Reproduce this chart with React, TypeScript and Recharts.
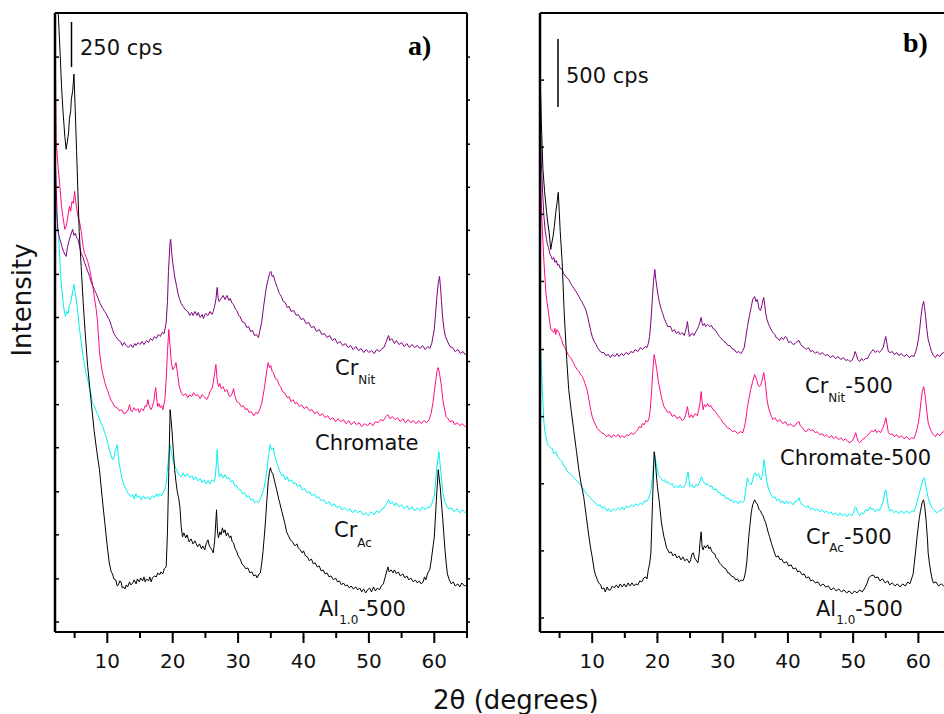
import React from "react";
import { LineChart, Line, XAxis, YAxis } from "recharts";

type Pt = [number, number];

// 2θ (degrees) vs intensity (a.u., traces already offset as in the figure)
const xTicks = [5, 10, 15, 20, 25, 30, 35, 40, 45, 50, 55, 60, 65];
const yTicksA = [10, 53, 97, 140, 184, 227, 270, 314, 357, 401, 444, 487, 531, 574];
const yTicksB = [14, 81, 148, 215, 282, 350, 417, 484, 551];

// panel a) as-synthesised samples
const aBlack: Pt[] = [
  [2.0, 720], [2.5, 618], [2.8, 575], [3.0, 545], [3.2, 522], [3.5, 495], [3.7, 482], [3.9, 490], [4.1, 500],
  [4.2, 512], [4.4, 520], [4.5, 532], [4.7, 540], [4.9, 557], [5.1, 520], [5.3, 480], [5.5, 440], [5.7, 400],
  [6.0, 365], [6.3, 330], [6.6, 300], [7.0, 265], [7.5, 232], [8.0, 200], [8.4, 180], [8.8, 162], [9.2, 135],
  [9.6, 110], [10.0, 85], [10.3, 69], [10.6, 60], [10.8, 58], [11.0, 53], [11.3, 52], [11.5, 46], [11.7, 47],
  [11.9, 51], [12.1, 50], [12.3, 44], [12.5, 45], [12.7, 43], [12.9, 47], [13.1, 45], [13.4, 50], [13.6, 47],
  [13.9, 49], [14.1, 52], [14.4, 48], [14.6, 53], [14.9, 50], [15.1, 54], [15.4, 51], [15.6, 55], [15.8, 50],
  [16.0, 53], [16.3, 51], [16.5, 55], [16.7, 50], [16.9, 54], [17.2, 56], [17.5, 55], [17.7, 59], [18.0, 57],
  [18.2, 60], [18.5, 58], [18.7, 63], [19.0, 65], [19.2, 100], [19.4, 160], [19.6, 222], [19.75, 212],
  [19.9, 200], [20.1, 180], [20.3, 162], [20.5, 150], [20.7, 140], [20.9, 134], [21.1, 125], [21.3, 105],
  [21.5, 95], [21.7, 99], [22.0, 94], [22.2, 97], [22.5, 90], [22.8, 93], [23.1, 88], [23.4, 91], [23.8, 85],
  [24.1, 88], [24.4, 83], [24.6, 86], [24.9, 82], [25.1, 88], [25.4, 92], [25.6, 86], [25.8, 84], [26.0, 82],
  [26.2, 79], [26.4, 90], [26.5, 100], [26.7, 122], [26.85, 100], [27.0, 94], [27.2, 100], [27.4, 97],
  [27.6, 104], [27.8, 99], [28.0, 102], [28.2, 96], [28.4, 99], [28.7, 94], [28.9, 96], [29.1, 90], [29.3, 89],
  [29.5, 84], [29.8, 80], [30.0, 76], [30.3, 73], [30.6, 68], [30.9, 66], [31.2, 63], [31.5, 64], [31.8, 59],
  [32.1, 60], [32.4, 56], [32.7, 57], [32.9, 54], [33.2, 58], [33.4, 59], [33.6, 68], [33.8, 80], [34.0, 95],
  [34.2, 112], [34.4, 132], [34.6, 150], [34.8, 160], [34.95, 164], [35.1, 160], [35.3, 158], [35.6, 150],
  [35.9, 142], [36.2, 133], [36.4, 128], [36.7, 120], [36.9, 115], [37.2, 107], [37.4, 100], [37.7, 96],
  [38.0, 92], [38.3, 90], [38.7, 86], [39.0, 88], [39.2, 84], [39.5, 82], [39.8, 79], [40.0, 81], [40.3, 76],
  [40.6, 75], [40.9, 71], [41.2, 73], [41.5, 68], [41.8, 69], [42.1, 65], [42.4, 66], [42.7, 61], [43.0, 62],
  [43.3, 58], [43.6, 59], [43.9, 55], [44.2, 56], [44.6, 52], [44.9, 54], [45.2, 50], [45.5, 51], [45.8, 47],
  [46.1, 49], [46.4, 46], [46.7, 47], [47.0, 44], [47.3, 46], [47.6, 43], [48.0, 45], [48.3, 42], [48.6, 44],
  [48.9, 40], [49.2, 43], [49.5, 39], [49.8, 42], [50.1, 44], [50.4, 40], [50.7, 45], [51.0, 41], [51.3, 44],
  [51.6, 42], [51.9, 46], [52.2, 48], [52.5, 55], [52.9, 65], [53.1, 60], [53.4, 62], [53.7, 59], [53.9, 62],
  [54.2, 58], [54.5, 60], [54.8, 56], [55.2, 58], [55.5, 54], [55.8, 56], [56.1, 52], [56.4, 54], [56.8, 50],
  [57.1, 52], [57.4, 49], [57.7, 51], [58.0, 48], [58.3, 50], [58.5, 55], [58.7, 52], [59.0, 59], [59.3, 62],
  [59.5, 70], [60.0, 95], [60.3, 130], [60.6, 162], [60.9, 145], [61.3, 112], [61.6, 85], [61.8, 70],
  [62.0, 58], [62.3, 52], [62.6, 48], [62.9, 50], [63.2, 46], [63.6, 48], [63.9, 45], [64.2, 49], [64.6, 46],
  [65.0, 47],
];

const aCyan: Pt[] = [
  [2.0, 432], [2.5, 402], [2.9, 352], [3.3, 325], [3.6, 315], [3.8, 320], [4.0, 318], [4.2, 326], [4.4, 329],
  [4.7, 340], [4.9, 347], [5.1, 338], [5.4, 325], [5.7, 305], [5.95, 292], [6.3, 275], [6.5, 268], [6.7, 259],
  [7.0, 252], [7.2, 245], [7.5, 238], [7.7, 229], [8.0, 226], [8.2, 222], [8.5, 218], [8.8, 212], [9.0, 209],
  [9.3, 205], [9.6, 199], [9.8, 195], [10.1, 188], [10.3, 182], [10.6, 176], [10.8, 172], [11.0, 174],
  [11.2, 180], [11.5, 187], [11.7, 175], [11.8, 169], [12.1, 158], [12.4, 149], [12.6, 146], [12.9, 142],
  [13.1, 139], [13.4, 137], [13.6, 135], [13.9, 137], [14.1, 133], [14.4, 138], [14.6, 134], [14.9, 136],
  [15.2, 132], [15.5, 136], [15.8, 133], [16.2, 135], [16.5, 132], [16.9, 136], [17.2, 134], [17.6, 138],
  [17.8, 135], [18.0, 138], [18.3, 136], [18.5, 139], [18.8, 143], [19.0, 149], [19.3, 170], [19.6, 187],
  [20.0, 172], [20.3, 166], [20.6, 162], [20.9, 157], [21.3, 155], [21.6, 159], [21.9, 155], [22.2, 158],
  [22.6, 154], [22.9, 156], [23.2, 152], [23.5, 155], [23.8, 151], [24.2, 153], [24.5, 149], [24.8, 152],
  [25.1, 148], [25.4, 151], [25.7, 148], [26.0, 152], [26.3, 150], [26.5, 154], [26.7, 170], [26.8, 182],
  [26.95, 165], [27.1, 155], [27.4, 158], [27.7, 154], [28.0, 157], [28.3, 153], [28.6, 154], [28.9, 150],
  [29.2, 151], [29.5, 146], [29.8, 146], [30.1, 142], [30.4, 142], [30.7, 138], [31.0, 139], [31.3, 135],
  [31.6, 136], [31.9, 132], [32.2, 133], [32.5, 129], [32.8, 131], [33.1, 129], [33.4, 133], [33.7, 138],
  [33.9, 142], [34.2, 152], [34.4, 162], [34.7, 178], [34.9, 187], [35.1, 182], [35.4, 184], [35.6, 176],
  [35.9, 169], [36.2, 164], [36.4, 160], [36.7, 156], [36.9, 157], [37.2, 152], [37.5, 155], [37.8, 150],
  [38.1, 152], [38.5, 148], [38.8, 149], [39.1, 145], [39.5, 147], [39.8, 142], [40.2, 143], [40.6, 139],
  [40.9, 140], [41.3, 136], [41.6, 138], [42.0, 134], [42.3, 135], [42.7, 131], [43.1, 132], [43.5, 128],
  [43.9, 130], [44.3, 126], [44.7, 128], [45.1, 124], [45.5, 126], [45.9, 122], [46.3, 124], [46.7, 121],
  [47.1, 123], [47.5, 119], [47.9, 122], [48.3, 119], [48.7, 121], [49.1, 117], [49.5, 119], [49.9, 116],
  [50.3, 120], [50.8, 117], [51.2, 121], [51.6, 119], [52.0, 123], [52.3, 124], [52.7, 128], [53.0, 132],
  [53.3, 128], [53.6, 130], [53.9, 126], [54.2, 129], [54.6, 125], [55.0, 127], [55.4, 123], [55.8, 126],
  [56.2, 122], [56.6, 125], [57.0, 121], [57.4, 124], [57.8, 121], [58.2, 125], [58.6, 122], [59.0, 125],
  [59.3, 124], [59.6, 128], [60.0, 135], [60.2, 150], [60.4, 165], [60.7, 180], [61.0, 160], [61.3, 139],
  [61.6, 130], [61.9, 126], [62.2, 123], [62.6, 124], [63.0, 120], [63.5, 123], [63.9, 119], [64.3, 122],
  [64.7, 119], [65.0, 121],
];

const aPink: Pt[] = [
  [2.0, 597], [2.2, 489], [2.5, 462], [2.7, 449], [3.0, 425], [3.2, 415], [3.5, 402], [3.7, 405], [3.9, 412],
  [4.2, 425], [4.4, 420], [4.6, 430], [4.8, 428], [5.0, 440], [5.2, 428], [5.5, 415], [5.8, 408], [6.0, 400],
  [6.3, 385], [6.5, 378], [6.8, 374], [7.0, 370], [7.3, 362], [7.5, 355], [7.8, 345], [8.0, 335], [8.3, 322],
  [8.5, 310], [8.8, 280], [9.1, 265], [9.3, 258], [9.6, 250], [9.8, 245], [10.1, 240], [10.3, 236], [10.6, 231],
  [10.8, 229], [11.1, 225], [11.5, 224], [11.8, 221], [12.2, 222], [12.5, 218], [12.9, 219], [13.2, 222],
  [13.4, 227], [13.6, 221], [13.8, 220], [14.1, 224], [14.4, 221], [14.7, 223], [14.9, 219], [15.2, 223],
  [15.5, 221], [15.8, 226], [16.0, 225], [16.2, 232], [16.4, 226], [16.7, 222], [16.9, 225], [17.1, 230],
  [17.3, 240], [17.4, 244], [17.6, 230], [17.7, 225], [17.9, 228], [18.1, 224], [18.3, 226], [18.5, 222],
  [18.8, 232], [19.0, 252], [19.2, 280], [19.4, 302], [19.6, 285], [19.8, 269], [20.0, 262], [20.3, 265],
  [20.5, 269], [20.7, 260], [20.8, 255], [21.0, 245], [21.3, 239], [21.6, 236], [22.0, 238], [22.3, 234],
  [22.6, 237], [22.9, 235], [23.2, 239], [23.5, 236], [23.8, 237], [24.2, 233], [24.5, 237], [24.8, 235],
  [25.2, 232], [25.5, 236], [25.7, 240], [26.0, 243], [26.2, 249], [26.4, 258], [26.6, 267], [26.8, 252],
  [27.0, 245], [27.2, 248], [27.4, 243], [27.7, 245], [28.0, 240], [28.3, 242], [28.6, 236], [28.8, 235],
  [29.1, 238], [29.3, 243], [29.5, 236], [29.8, 230], [30.1, 229], [30.5, 225], [30.8, 226], [31.1, 222],
  [31.4, 223], [31.7, 219], [32.0, 220], [32.4, 216], [32.7, 219], [33.0, 218], [33.3, 222], [33.6, 228],
  [33.8, 235], [34.0, 243], [34.2, 252], [34.4, 262], [34.6, 269], [34.8, 264], [35.0, 266], [35.2, 260],
  [35.4, 259], [35.7, 253], [36.0, 252], [36.3, 246], [36.5, 245], [36.8, 240], [37.2, 238], [37.5, 234],
  [37.8, 235], [38.1, 230], [38.4, 232], [38.7, 228], [39.0, 229], [39.4, 225], [39.7, 227], [40.1, 223],
  [40.5, 225], [40.9, 221], [41.3, 222], [41.7, 218], [42.1, 220], [42.5, 216], [42.9, 218], [43.3, 214],
  [43.7, 216], [44.1, 212], [44.5, 214], [44.9, 210], [45.3, 213], [45.7, 210], [46.1, 212], [46.5, 208],
  [46.9, 211], [47.3, 207], [47.7, 210], [48.1, 207], [48.5, 209], [48.9, 205], [49.3, 208], [49.8, 206],
  [50.2, 209], [50.6, 206], [51.0, 210], [51.4, 209], [51.8, 212], [52.2, 211], [52.6, 215], [52.9, 217],
  [53.2, 213], [53.6, 215], [54.0, 212], [54.4, 214], [54.8, 210], [55.2, 213], [55.6, 209], [56.0, 212],
  [56.4, 209], [56.8, 211], [57.2, 208], [57.6, 211], [58.0, 208], [58.4, 211], [58.8, 209], [59.2, 212],
  [59.5, 218], [59.8, 229], [60.0, 240], [60.2, 250], [60.4, 260], [60.6, 264], [60.8, 258], [61.1, 245],
  [61.3, 232], [61.5, 225], [61.8, 215], [62.1, 213], [62.4, 210], [62.8, 211], [63.1, 207], [63.5, 209],
  [63.9, 206], [64.3, 208], [64.7, 205], [65.0, 206],
];

const aPurple: Pt[] = [
  [2.0, 480], [2.4, 402], [2.7, 393], [2.9, 389], [3.1, 384], [3.3, 380], [3.5, 377], [3.7, 375], [3.9, 384],
  [4.2, 392], [4.4, 396], [4.7, 402], [4.9, 396], [5.1, 398], [5.3, 394], [5.5, 392], [5.8, 384], [6.0, 378],
  [6.3, 374], [6.5, 369], [6.8, 364], [7.0, 360], [7.3, 355], [7.5, 350], [7.8, 345], [8.0, 342], [8.3, 338],
  [8.6, 333], [8.9, 328], [9.3, 323], [9.6, 320], [9.8, 318], [10.1, 314], [10.3, 312], [10.6, 306],
  [10.8, 302], [11.0, 298], [11.3, 295], [11.6, 292], [12.0, 290], [12.3, 286], [12.6, 289], [12.9, 286],
  [13.2, 284], [13.6, 287], [13.9, 284], [14.2, 288], [14.4, 286], [14.7, 289], [15.0, 287], [15.3, 290],
  [15.6, 287], [16.0, 291], [16.3, 289], [16.6, 293], [16.9, 291], [17.2, 295], [17.5, 293], [17.8, 297],
  [18.1, 295], [18.4, 299], [18.7, 298], [19.0, 309], [19.2, 330], [19.35, 360], [19.6, 390], [19.7, 392],
  [19.85, 378], [20.0, 369], [20.3, 355], [20.6, 345], [20.8, 338], [21.0, 333], [21.3, 328], [21.6, 325],
  [21.9, 322], [22.3, 320], [22.6, 316], [22.9, 319], [23.1, 316], [23.4, 320], [23.7, 316], [23.9, 319],
  [24.2, 314], [24.5, 317], [24.7, 313], [25.0, 318], [25.4, 316], [25.7, 320], [26.0, 317], [26.2, 320],
  [26.4, 325], [26.6, 332], [26.8, 344], [26.95, 333], [27.1, 330], [27.4, 333], [27.7, 336], [28.0, 332],
  [28.3, 336], [28.6, 331], [28.8, 333], [29.1, 328], [29.3, 327], [29.6, 322], [29.8, 321], [30.1, 316],
  [30.3, 315], [30.6, 310], [31.0, 309], [31.3, 304], [31.6, 305], [31.9, 300], [32.2, 301], [32.5, 296],
  [32.8, 297], [33.1, 294], [33.3, 300], [33.6, 309], [33.9, 325], [34.2, 339], [34.4, 347], [34.6, 352],
  [34.8, 358], [35.0, 360], [35.2, 355], [35.4, 356], [35.7, 349], [36.0, 344], [36.3, 338], [36.6, 335],
  [36.9, 330], [37.2, 329], [37.5, 324], [37.8, 325], [38.1, 320], [38.5, 321], [38.9, 316], [39.2, 317],
  [39.6, 312], [40.0, 313], [40.4, 308], [40.8, 309], [41.2, 304], [41.6, 305], [42.0, 300], [42.4, 302],
  [42.8, 297], [43.2, 298], [43.6, 294], [44.0, 296], [44.4, 291], [44.8, 293], [45.2, 288], [45.6, 290],
  [46.0, 286], [46.4, 288], [46.8, 284], [47.2, 286], [47.6, 282], [48.0, 285], [48.4, 281], [48.8, 283],
  [49.2, 279], [49.6, 282], [50.0, 279], [50.4, 281], [50.8, 278], [51.2, 282], [51.6, 280], [52.0, 283],
  [52.3, 284], [52.6, 289], [53.0, 296], [53.2, 291], [53.5, 293], [53.9, 288], [54.2, 291], [54.6, 287],
  [55.0, 289], [55.4, 285], [55.8, 288], [56.2, 284], [56.6, 287], [57.0, 284], [57.4, 286], [57.8, 283],
  [58.2, 286], [58.6, 282], [59.0, 285], [59.3, 283], [59.6, 288], [60.0, 302], [60.2, 318], [60.4, 335],
  [60.6, 348], [60.8, 355], [61.0, 340], [61.1, 330], [61.3, 312], [61.5, 302], [61.7, 295], [62.1, 289],
  [62.4, 285], [62.8, 284], [63.2, 280], [63.6, 282], [64.0, 278], [64.4, 280], [64.7, 277], [65.0, 278],
];

// panel b) samples calcined at 500 °C
const bBlack: Pt[] = [
  [2.0, 560], [2.2, 510], [2.45, 462], [2.7, 440], [3.0, 420], [3.2, 408], [3.4, 399], [3.65, 382], [3.8, 388],
  [4.0, 395], [4.2, 405], [4.4, 418], [4.6, 428], [4.8, 439], [4.95, 420], [5.1, 400], [5.4, 369], [5.7, 320],
  [6.1, 272], [6.4, 242], [6.8, 220], [7.2, 200], [7.6, 180], [7.95, 162], [8.3, 148], [8.7, 135], [9.1, 115],
  [9.5, 95], [9.8, 82], [10.0, 75], [10.3, 62], [10.5, 57], [10.8, 52], [11.0, 49], [11.3, 47], [11.5, 43],
  [11.8, 44], [12.0, 40], [12.3, 45], [12.5, 42], [12.8, 42], [13.1, 46], [13.4, 44], [13.7, 47], [14.0, 44],
  [14.3, 48], [14.6, 45], [14.9, 48], [15.2, 45], [15.5, 49], [15.8, 46], [16.1, 49], [16.4, 46], [16.7, 48],
  [17.0, 47], [17.3, 51], [17.6, 50], [17.9, 54], [18.2, 55], [18.4, 53], [18.6, 62], [18.8, 68], [19.0, 79],
  [19.25, 130], [19.5, 180], [19.65, 172], [19.8, 160], [20.0, 145], [20.3, 129], [20.6, 110], [20.8, 102],
  [21.0, 95], [21.2, 90], [21.4, 84], [21.6, 82], [21.8, 79], [22.1, 80], [22.4, 76], [22.7, 78], [23.0, 74],
  [23.3, 76], [23.6, 72], [23.9, 75], [24.2, 71], [24.5, 73], [24.9, 69], [25.1, 72], [25.3, 78], [25.5, 79],
  [25.7, 74], [25.9, 72], [26.2, 69], [26.4, 78], [26.5, 88], [26.7, 100], [26.85, 85], [27.0, 82], [27.2, 86],
  [27.4, 84], [27.7, 87], [27.9, 83], [28.1, 85], [28.3, 81], [28.5, 79], [28.8, 78], [29.0, 74], [29.3, 72],
  [29.5, 69], [29.8, 67], [30.2, 64], [30.5, 63], [30.8, 59], [31.0, 59], [31.3, 56], [31.7, 55], [32.0, 52],
  [32.3, 53], [32.5, 50], [32.8, 52], [33.1, 51], [33.3, 54], [33.5, 60], [33.7, 70], [34.0, 95], [34.2, 108],
  [34.4, 120], [34.6, 127], [34.9, 132], [35.1, 129], [35.3, 128], [35.6, 122], [35.8, 121], [36.0, 118],
  [36.2, 116], [36.4, 112], [36.6, 109], [36.8, 104], [37.0, 99], [37.2, 95], [37.5, 88], [37.7, 84], [38.0, 78],
  [38.2, 75], [38.5, 76], [38.8, 72], [39.0, 73], [39.4, 69], [39.8, 70], [40.1, 66], [40.5, 67], [40.8, 63],
  [41.2, 64], [41.5, 60], [41.8, 61], [42.2, 57], [42.5, 58], [42.8, 54], [43.2, 55], [43.5, 51], [43.8, 52],
  [44.2, 49], [44.6, 50], [45.0, 46], [45.4, 48], [45.8, 45], [46.2, 46], [46.6, 42], [47.0, 44], [47.4, 41],
  [47.8, 43], [48.2, 40], [48.6, 42], [49.0, 39], [49.4, 41], [49.8, 38], [50.2, 41], [50.6, 39], [51.0, 42],
  [51.4, 40], [51.8, 44], [52.1, 48], [52.4, 54], [52.7, 56], [53.1, 57], [53.4, 54], [53.8, 55], [54.1, 51],
  [54.5, 53], [54.9, 49], [55.3, 51], [55.6, 47], [56.0, 49], [56.4, 46], [56.8, 48], [57.2, 45], [57.6, 48],
  [58.0, 46], [58.4, 50], [58.7, 48], [59.0, 54], [59.2, 58], [59.4, 70], [59.6, 82], [59.8, 95], [60.1, 112],
  [60.3, 120], [60.6, 130], [60.8, 132], [61.0, 124], [61.2, 110], [61.4, 92], [61.5, 79], [61.7, 68],
  [61.9, 60], [62.1, 53], [62.3, 49], [62.7, 50], [63.1, 46], [63.5, 48], [63.9, 46], [64.4, 48], [65.0, 46],
];

const bCyan: Pt[] = [
  [2.0, 300], [2.3, 250], [2.6, 209], [2.8, 198], [3.1, 189], [3.3, 186], [3.6, 184], [3.9, 183], [4.1, 178],
  [4.4, 180], [4.7, 175], [5.1, 172], [5.4, 170], [5.6, 166], [5.9, 165], [6.1, 161], [6.4, 159], [6.8, 157],
  [7.2, 154], [7.5, 152], [7.95, 149], [8.2, 147], [8.5, 144], [8.8, 141], [9.0, 139], [9.3, 137], [9.7, 134],
  [10.1, 131], [10.5, 129], [10.9, 126], [11.2, 127], [11.5, 124], [11.9, 125], [12.2, 121], [12.6, 123],
  [12.9, 120], [13.3, 123], [13.6, 121], [14.0, 124], [14.3, 122], [14.6, 125], [14.9, 122], [15.3, 126],
  [15.6, 124], [16.0, 127], [16.3, 125], [16.7, 128], [17.0, 126], [17.4, 129], [17.7, 127], [18.0, 131],
  [18.3, 130], [18.6, 133], [18.8, 136], [19.0, 142], [19.2, 152], [19.4, 168], [19.6, 177], [19.8, 168],
  [19.9, 165], [20.1, 158], [20.3, 155], [20.6, 153], [20.8, 151], [21.1, 152], [21.3, 149], [21.6, 150],
  [22.0, 147], [22.3, 148], [22.6, 144], [22.9, 146], [23.2, 144], [23.5, 147], [23.8, 144], [24.1, 145],
  [24.3, 148], [24.5, 154], [24.7, 160], [24.85, 152], [25.0, 145], [25.3, 147], [25.6, 144], [25.9, 147],
  [26.2, 146], [26.5, 150], [26.7, 154], [26.8, 155], [26.95, 151], [27.1, 150], [27.4, 147], [27.7, 148],
  [28.0, 145], [28.3, 146], [28.6, 142], [29.0, 143], [29.3, 139], [29.6, 139], [29.9, 136], [30.2, 137],
  [30.5, 133], [30.8, 134], [31.1, 131], [31.4, 132], [31.7, 129], [32.0, 131], [32.4, 128], [32.7, 131],
  [33.0, 129], [33.3, 131], [33.5, 140], [33.65, 148], [33.8, 154], [33.95, 150], [34.1, 149], [34.4, 147],
  [34.6, 152], [34.8, 157], [35.0, 159], [35.2, 156], [35.5, 158], [35.7, 154], [35.9, 152], [36.1, 158],
  [36.2, 164], [36.35, 172], [36.5, 165], [36.6, 158], [36.8, 149], [37.0, 144], [37.2, 140], [37.5, 136],
  [37.7, 134], [38.0, 135], [38.3, 131], [38.6, 133], [38.9, 129], [39.2, 131], [39.5, 128], [39.8, 131],
  [40.1, 128], [40.4, 130], [40.8, 127], [41.1, 130], [41.4, 131], [41.7, 134], [41.9, 130], [42.2, 127],
  [42.5, 126], [42.8, 124], [43.1, 126], [43.5, 122], [43.8, 124], [44.2, 121], [44.5, 123], [44.9, 120],
  [45.2, 122], [45.6, 119], [45.9, 121], [46.3, 118], [46.6, 120], [46.9, 117], [47.3, 119], [47.7, 116],
  [48.0, 119], [48.4, 116], [48.7, 118], [49.0, 115], [49.4, 118], [49.8, 116], [50.1, 120], [50.3, 125],
  [50.5, 124], [50.7, 119], [51.0, 116], [51.3, 119], [51.6, 118], [51.9, 122], [52.3, 121], [52.6, 125],
  [52.9, 122], [53.1, 123], [53.4, 120], [53.7, 123], [54.0, 121], [54.3, 125], [54.6, 130], [54.8, 138],
  [55.0, 142], [55.2, 134], [55.4, 125], [55.6, 121], [55.9, 122], [56.3, 119], [56.6, 121], [57.0, 118],
  [57.4, 121], [57.8, 118], [58.2, 121], [58.6, 118], [59.0, 121], [59.3, 120], [59.6, 125], [59.8, 130],
  [60.0, 135], [60.2, 140], [60.4, 145], [60.7, 152], [60.9, 154], [61.1, 148], [61.3, 140], [61.5, 134],
  [61.8, 128], [62.1, 124], [62.4, 122], [62.8, 119], [63.2, 121], [63.6, 122], [63.9, 124], [64.4, 121],
  [65.0, 123],
];

const bPink: Pt[] = [
  [2.0, 470], [2.3, 410], [2.6, 370], [2.9, 339], [3.1, 328], [3.3, 319], [3.5, 309], [3.65, 302], [3.9, 301],
  [4.1, 299], [4.3, 303], [4.4, 297], [4.6, 302], [4.9, 299], [5.1, 295], [5.3, 292], [5.5, 288], [5.7, 285],
  [5.9, 283], [6.1, 280], [6.3, 277], [6.5, 275], [6.8, 273], [7.0, 270], [7.2, 268], [7.4, 265], [7.7, 262],
  [8.0, 260], [8.2, 257], [8.5, 255], [8.7, 252], [8.9, 248], [9.2, 242], [9.4, 236], [9.6, 228], [9.8, 221],
  [10.0, 215], [10.3, 210], [10.5, 207], [10.8, 203], [11.0, 202], [11.4, 199], [11.8, 198], [12.2, 195],
  [12.6, 197], [12.9, 194], [13.3, 197], [13.6, 195], [14.0, 197], [14.3, 194], [14.6, 196], [14.9, 194],
  [15.3, 197], [15.6, 196], [16.0, 199], [16.3, 197], [16.7, 200], [17.0, 202], [17.2, 205], [17.5, 204],
  [17.7, 208], [18.0, 207], [18.2, 211], [18.5, 210], [18.7, 213], [18.9, 222], [19.1, 240], [19.3, 262],
  [19.5, 277], [19.7, 270], [19.9, 262], [20.1, 252], [20.3, 245], [20.6, 235], [20.8, 230], [21.0, 225],
  [21.3, 222], [21.6, 219], [21.9, 220], [22.3, 215], [22.6, 217], [23.0, 213], [23.4, 215], [23.8, 211],
  [24.1, 213], [24.3, 216], [24.5, 222], [24.6, 225], [24.75, 219], [24.9, 214], [25.2, 217], [25.4, 214],
  [25.8, 218], [26.1, 216], [26.3, 221], [26.5, 228], [26.7, 240], [26.85, 230], [27.0, 222], [27.2, 227],
  [27.4, 225], [27.7, 228], [27.9, 225], [28.2, 226], [28.5, 222], [28.8, 221], [29.0, 219], [29.3, 216],
  [29.5, 214], [29.8, 212], [30.0, 209], [30.4, 207], [30.7, 204], [31.1, 203], [31.5, 200], [31.9, 201],
  [32.3, 198], [32.7, 200], [33.1, 199], [33.3, 204], [33.5, 210], [33.8, 225], [34.0, 232], [34.3, 242],
  [34.6, 250], [34.9, 257], [35.2, 252], [35.4, 247], [35.6, 245], [35.8, 246], [36.0, 250], [36.3, 259],
  [36.5, 250], [36.6, 245], [36.8, 232], [37.0, 225], [37.2, 220], [37.5, 215], [37.7, 212], [38.0, 214],
  [38.4, 210], [38.8, 212], [39.2, 208], [39.6, 210], [40.0, 206], [40.4, 208], [40.8, 205], [41.1, 206],
  [41.4, 209], [41.7, 210], [41.9, 206], [42.2, 204], [42.5, 201], [42.8, 200], [43.2, 203], [43.5, 201],
  [43.8, 202], [44.2, 199], [44.5, 200], [44.9, 197], [45.3, 198], [45.6, 195], [45.9, 197], [46.3, 194],
  [46.7, 196], [47.0, 193], [47.4, 195], [47.8, 192], [48.1, 194], [48.5, 191], [48.8, 193], [49.2, 190],
  [49.5, 189], [49.9, 191], [50.1, 194], [50.4, 199], [50.6, 194], [50.8, 190], [51.0, 189], [51.4, 192],
  [51.8, 194], [52.1, 196], [52.5, 198], [52.8, 201], [53.1, 200], [53.4, 202], [53.6, 199], [53.9, 201],
  [54.2, 199], [54.5, 203], [54.8, 208], [55.0, 214], [55.2, 207], [55.4, 199], [55.7, 197], [56.0, 198],
  [56.3, 195], [56.7, 197], [57.0, 194], [57.4, 196], [57.8, 193], [58.2, 195], [58.6, 192], [59.0, 194],
  [59.3, 193], [59.6, 198], [59.8, 203], [60.0, 209], [60.2, 218], [60.4, 230], [60.6, 240], [60.8, 245],
  [60.95, 240], [61.1, 232], [61.3, 220], [61.5, 209], [61.8, 203], [62.0, 200], [62.3, 197], [62.6, 195],
  [62.9, 198], [63.3, 196], [63.6, 199], [63.9, 200], [64.4, 197], [65.0, 199],
];

const bPurple: Pt[] = [
  [2.0, 520], [2.2, 470], [2.4, 439], [2.6, 415], [2.8, 400], [3.0, 392], [3.1, 388], [3.3, 384], [3.5, 378],
  [3.7, 375], [3.9, 372], [4.1, 374], [4.3, 369], [4.5, 371], [4.7, 366], [4.9, 367], [5.1, 363], [5.4, 362],
  [5.6, 358], [5.95, 355], [6.2, 353], [6.4, 352], [6.7, 348], [7.0, 345], [7.2, 343], [7.5, 340], [7.7, 338],
  [7.95, 335], [8.2, 332], [8.4, 330], [8.7, 326], [9.0, 322], [9.3, 315], [9.5, 309], [9.8, 300], [10.0, 295],
  [10.3, 290], [10.6, 287], [10.8, 284], [11.0, 282], [11.4, 279], [11.8, 279], [12.1, 276], [12.5, 277],
  [12.8, 274], [13.1, 277], [13.5, 275], [13.8, 278], [14.1, 275], [14.5, 278], [14.8, 276], [15.2, 279],
  [15.6, 277], [15.9, 280], [16.3, 279], [16.6, 282], [17.0, 280], [17.4, 284], [17.7, 282], [18.1, 285],
  [18.4, 284], [18.6, 288], [18.8, 295], [19.0, 310], [19.2, 330], [19.4, 350], [19.6, 362], [19.75, 352],
  [19.9, 345], [20.1, 336], [20.3, 329], [20.6, 322], [20.8, 318], [21.1, 312], [21.3, 309], [21.6, 305],
  [22.0, 305], [22.3, 300], [22.6, 302], [22.9, 298], [23.2, 300], [23.5, 297], [23.8, 299], [24.1, 296],
  [24.3, 300], [24.5, 306], [24.6, 310], [24.75, 302], [24.9, 295], [25.1, 297], [25.4, 298], [25.6, 296],
  [25.9, 300], [26.1, 302], [26.3, 305], [26.5, 309], [26.7, 314], [26.85, 308], [27.0, 306], [27.2, 308],
  [27.4, 305], [27.7, 307], [28.0, 305], [28.3, 306], [28.5, 303], [28.8, 302], [29.0, 300], [29.3, 297],
  [29.5, 295], [29.8, 293], [30.2, 290], [30.5, 289], [30.8, 286], [31.1, 286], [31.4, 283], [31.8, 282],
  [32.1, 279], [32.5, 280], [32.8, 278], [33.1, 281], [33.3, 284], [33.5, 292], [33.8, 305], [34.1, 316],
  [34.4, 325], [34.6, 332], [34.9, 335], [35.1, 330], [35.3, 332], [35.6, 322], [35.8, 321], [36.0, 326],
  [36.2, 332], [36.3, 334], [36.45, 326], [36.6, 318], [36.8, 312], [37.0, 308], [37.2, 305], [37.5, 301],
  [37.7, 299], [38.0, 297], [38.2, 294], [38.5, 293], [38.7, 291], [39.0, 294], [39.3, 292], [39.6, 295],
  [39.8, 294], [40.1, 289], [40.4, 290], [40.8, 287], [41.1, 288], [41.4, 290], [41.7, 291], [41.9, 288],
  [42.2, 285], [42.5, 284], [42.8, 282], [43.1, 284], [43.5, 280], [43.8, 281], [44.2, 278], [44.5, 280],
  [44.9, 277], [45.3, 279], [45.7, 276], [46.1, 277], [46.5, 274], [46.9, 276], [47.3, 273], [47.7, 275],
  [48.1, 272], [48.5, 274], [48.9, 271], [49.2, 272], [49.5, 270], [49.8, 271], [50.1, 275], [50.3, 280],
  [50.5, 277], [50.7, 272], [51.0, 270], [51.3, 273], [51.6, 271], [51.9, 273], [52.2, 273], [52.5, 277],
  [52.8, 280], [53.1, 282], [53.4, 279], [53.7, 281], [54.0, 279], [54.3, 281], [54.6, 284], [54.8, 290],
  [55.0, 295], [55.2, 287], [55.4, 280], [55.7, 279], [56.0, 280], [56.3, 277], [56.7, 279], [57.0, 276],
  [57.4, 278], [57.8, 275], [58.2, 277], [58.6, 274], [59.0, 276], [59.3, 275], [59.6, 280], [59.8, 285],
  [60.0, 292], [60.2, 302], [60.4, 315], [60.6, 325], [60.8, 330], [60.95, 324], [61.1, 315], [61.3, 302],
  [61.5, 292], [61.8, 285], [62.0, 280], [62.3, 276], [62.6, 274], [62.9, 277], [63.3, 275], [63.6, 278],
  [63.9, 279], [64.4, 276], [65.0, 278],
];

const FONT = "'DejaVu Sans', Verdana, sans-serif";
const rows = (pts: Pt[]) => pts.map(([x, y]) => ({ x, y }));

const BottomTick = (props: any) => {
  const { x, y, payload } = props;
  if (payload.value % 10 !== 0) return <g />;
  return (
    <g>
      <line x1={x} x2={x} y1={y - 1} y2={y + 5} stroke="#000" strokeWidth={2} />
      <text x={x} y={y + 30} textAnchor="middle" fontSize={20} fontFamily={FONT} fill="#111">
        {payload.value}
      </text>
    </g>
  );
};

function Panel({ traces, yTicks, margin }: { traces: [Pt[], string][]; yTicks: number[]; margin: any }) {
  return (
    <LineChart width={480} height={714} margin={margin}>
      <XAxis
        dataKey="x"
        type="number"
        domain={[2, 65]}
        allowDataOverflow
        ticks={xTicks}
        interval={0}
        height={40}
        tickSize={6}
        tickMargin={0}
        axisLine={{ stroke: "#000", strokeWidth: 2 }}
        tickLine={{ stroke: "#000", strokeWidth: 2 }}
        tick={<BottomTick />}
      />
      <XAxis
        xAxisId="top"
        orientation="top"
        type="number"
        domain={[2, 65]}
        allowDataOverflow
        ticks={xTicks}
        interval={0}
        height={1}
        mirror
        tickSize={3}
        tickFormatter={() => ""}
        axisLine={{ stroke: "#000", strokeWidth: 2 }}
        tickLine={{ stroke: "#000", strokeWidth: 1.5 }}
      />
      <YAxis
        type="number"
        domain={[0, 618]}
        allowDataOverflow
        ticks={yTicks}
        interval={0}
        width={1}
        mirror
        tickSize={4}
        tickFormatter={() => ""}
        axisLine={{ stroke: "#000", strokeWidth: 2.5 }}
        tickLine={{ stroke: "#000", strokeWidth: 1.5 }}
      />
      <YAxis
        yAxisId="r"
        orientation="right"
        type="number"
        domain={[0, 618]}
        allowDataOverflow
        ticks={yTicks}
        interval={0}
        width={1}
        tickSize={3}
        tickFormatter={() => ""}
        axisLine={{ stroke: "#000", strokeWidth: 2 }}
        tickLine={{ stroke: "#000", strokeWidth: 1.5 }}
      />
      {traces.map(([pts, color], i) => (
        <Line
          key={i}
          data={rows(pts)}
          dataKey="y"
          type="linear"
          stroke={color}
          strokeWidth={1}
          dot={false}
          activeDot={false}
          isAnimationActive={false}
        />
      ))}
    </LineChart>
  );
}

const CYAN = "#00f0f0";
const PINK = "#ff0a84";
const PURPLE = "#800080";
const BLACK = "#000000";

export default function App() {
  const txt = { fontFamily: FONT, fill: "#111" } as const;
  return (
    <div style={{ position: "fixed", left: 0, top: 0, width: 944, height: 714, overflow: "hidden", background: "#fff" }}>
      <div style={{ position: "absolute", left: 0, top: 0 }}>
        <Panel
          traces={[[aCyan, CYAN], [aPink, PINK], [aPurple, PURPLE], [aBlack, BLACK]]}
          yTicks={yTicksA}
          margin={{ top: 13, right: 12, bottom: 42, left: 55 }}
        />
      </div>
      <div style={{ position: "absolute", left: 480, top: 0 }}>
        <Panel
          traces={[[bCyan, CYAN], [bPink, PINK], [bPurple, PURPLE], [bBlack, BLACK]]}
          yTicks={yTicksB}
          margin={{ top: 13, right: 8, bottom: 42, left: 60 }}
        />
      </div>
      <svg width={944} height={714} style={{ position: "absolute", left: 0, top: 0, pointerEvents: "none" }}>
        {/* scale bars */}
        <line x1={71.5} x2={71.5} y1={22} y2={67} stroke="#000" strokeWidth={1.5} />
        <text x={80} y={55} fontSize={21} {...txt}>250 cps</text>
        <line x1={558} x2={558} y1={39} y2={107} stroke="#000" strokeWidth={1.5} />
        <text x={566} y={83} fontSize={21} {...txt}>500 cps</text>

        <text x={408} y={55} fontSize={28} fontWeight="bold" fontFamily="'Liberation Serif', serif">a)</text>
        <text x={903} y={52} fontSize={28} fontWeight="bold" fontFamily="'Liberation Serif', serif">b)</text>

        {/* panel a labels */}
        <text x={335} y={375} fontSize={21} {...txt}>
          Cr<tspan fontSize={12} dy={9}>Nit</tspan>
        </text>
        <text x={315} y={450} fontSize={21} {...txt}>Chromate</text>
        <text x={334} y={537} fontSize={21} {...txt}>
          Cr<tspan fontSize={12} dy={10}>Ac</tspan>
        </text>
        <text x={319} y={616} fontSize={21} {...txt}>
          Al<tspan fontSize={12} dy={8}>1.0</tspan>
          <tspan dy={-8}>-500</tspan>
        </text>

        {/* panel b labels */}
        <text x={805} y={393} fontSize={21} {...txt}>
          Cr<tspan fontSize={12} dy={9}>Nit</tspan>
          <tspan dy={-9}>-500</tspan>
        </text>
        <text x={780} y={465} fontSize={21} {...txt}>Chromate-500</text>
        <text x={806} y={544} fontSize={21} {...txt}>
          Cr<tspan fontSize={12} dy={8}>Ac</tspan>
          <tspan dy={-8}>-500</tspan>
        </text>
        <text x={816} y={616} fontSize={21} {...txt}>
          Al<tspan fontSize={12} dy={8}>1.0</tspan>
          <tspan dy={-8}>-500</tspan>
        </text>

        <text transform="translate(31,300) rotate(-90)" textAnchor="middle" fontSize={26} {...txt}>Intensity</text>
        <text x={433} y={709} fontSize={26} {...txt}>2θ (degrees)</text>
      </svg>
    </div>
  );
}
